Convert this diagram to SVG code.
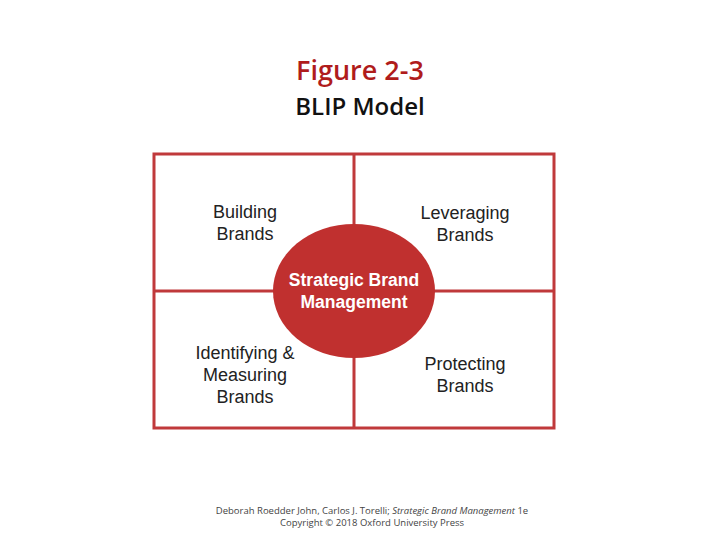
<svg xmlns="http://www.w3.org/2000/svg" width="720" height="540" viewBox="0 0 720 540">
<style>
.q{font-family:"Liberation Sans",Arial,sans-serif;font-size:18px;fill:#222;text-anchor:middle}
.c{font-family:"Liberation Sans",Arial,sans-serif;font-size:17.5px;font-weight:bold;fill:#fff;text-anchor:middle}
.ln{stroke:#c0393b;stroke-width:3;fill:none}
.ft{font-family:"Open Sans","DejaVu Sans",sans-serif;font-size:9.5px;fill:#444;text-anchor:middle}
</style>
<rect width="720" height="540" fill="#fff"/>
<text x="360" y="80" text-anchor="middle" font-family="Open Sans,Liberation Sans,sans-serif" font-size="27" font-weight="600" fill="#b01c1c">Figure 2-3</text>
<text x="360" y="115" text-anchor="middle" font-family="Open Sans,Liberation Sans,sans-serif" font-size="24" font-weight="600" fill="#111">BLIP Model</text>
<g id="connectors">
<rect class="ln" x="154" y="154" width="400" height="274"/>
<line class="ln" x1="354" y1="154" x2="354" y2="428"/>
<line class="ln" x1="154" y1="291" x2="554" y2="291"/>
</g>
<g id="building"><text class="q" x="245" y="218">Building</text><text class="q" x="245" y="240">Brands</text></g>
<g id="leveraging"><text class="q" x="465" y="219">Leveraging</text><text class="q" x="465" y="241">Brands</text></g>
<g id="identifying"><text class="q" x="245" y="359">Identifying &amp;</text><text class="q" x="245" y="381">Measuring</text><text class="q" x="245" y="403">Brands</text></g>
<g id="protecting"><text class="q" x="465" y="370">Protecting</text><text class="q" x="465" y="392">Brands</text></g>
<g id="center"><ellipse cx="354" cy="291" rx="81" ry="67" fill="#c0302f"/><text class="c" x="354" y="286">Strategic Brand</text><text class="c" x="354" y="308">Management</text></g>
<text class="ft" x="372" y="514">Deborah Roedder John, Carlos J. Torelli; <tspan font-style="italic">Strategic Brand Management</tspan> 1e</text>
<text class="ft" x="372" y="526">Copyright © 2018 Oxford University Press</text>
</svg>
